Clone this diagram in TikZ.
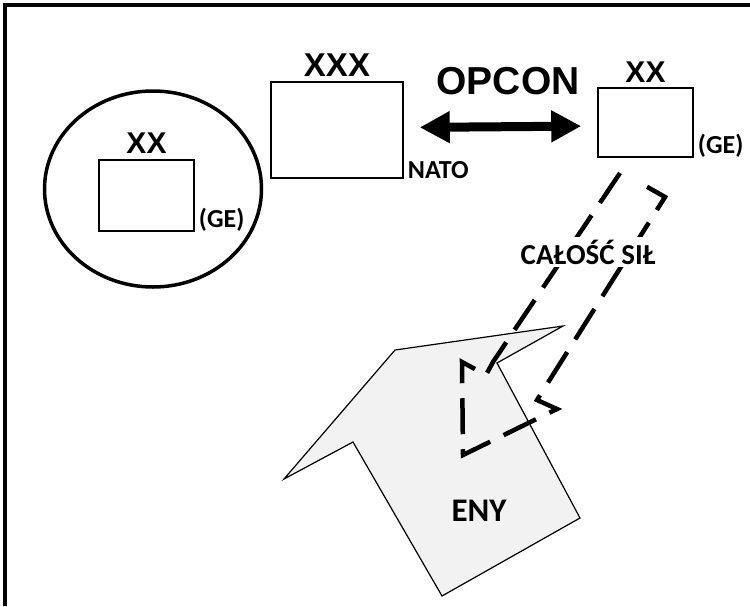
\documentclass[tikz,border=0pt]{standalone}
\usepackage{fontspec}
\setmainfont{Carlito}
\newfontfamily\arialfont{Liberation Sans}
\usetikzlibrary{arrows.meta, positioning, shapes.geometric}

\begin{document}
\begin{tikzpicture}[
    x=1pt, y=-1pt,
    unitbox/.style={draw, line width=1.5pt, inner sep=0pt},
    echelon/.style={font=\arialfont\bfseries\fontsize{30}{30}\selectfont,
                    inner sep=0pt},
    sidetag/.style={font=\bfseries\fontsize{26}{26}\selectfont,
                    inner sep=0pt, anchor=south west, xshift=4pt},
    opcon/.style={{Triangle[length=30pt, width=30pt]}-{Triangle[length=30pt, width=30pt]},
                  line width=9pt, shorten <=16pt, shorten >=16pt},
    force/.style={line width=4.5pt, dash pattern=on 36pt off 15pt}
  ]
  \useasboundingbox (0,0) rectangle (750,606);

  % Frame
  \draw[line width=3.5pt] (5,606) -- (5,5) -- (750,5);

  % GE division inside the ring
  \node[ellipse, draw, line width=3.5pt, inner sep=0pt,
        minimum width=217pt, minimum height=196pt] (ring) at (153,189) {};
  \node[unitbox, minimum width=95pt, minimum height=71pt] (lxx) at (146.5,195.5) {};
  \node[echelon, above=6pt of lxx] (lxxlbl) {XX};
  \node[sidetag] (lge) at (lxx.south east) {(GE)};

  % NATO corps
  \node[unitbox, minimum width=132pt, minimum height=96pt] (xxx) at (337,130) {};
  \node[echelon, font=\arialfont\bfseries\fontsize{33}{33}\selectfont,
        above=5pt of xxx] (xxxlbl) {XXX};
  \node[sidetag] (nato) at (xxx.south east) {NATO};

  % GE division under OPCON
  \node[unitbox, minimum width=95pt, minimum height=69pt] (rxx) at (645.5,122.5) {};
  \node[echelon, above=5pt of rxx] (rxxlbl) {XX};
  \node[sidetag] (rge) at (rxx.south east) {(GE)};

  % OPCON link
  \draw[opcon] ([yshift=2.5pt]xxx.east) -- ([yshift=-3.5pt]rxx.west);
  \node[font=\arialfont\bfseries\fontsize{39}{39}\selectfont, inner sep=0pt]
    (opconlbl) at (508,81.5) {OPCON};

  % Enemy
  \draw[fill=gray!10, line width=1.2pt] (395,350) -- (563,326) -- (497,363)
    -- (580,518) -- (442,596) -- (353,442) -- (284,479) -- cycle;
  \node[font=\bfseries\fontsize{33}{33}\selectfont, inner sep=0pt] (eny) at (479,511) {ENY};

  % Whole force
  \draw[force] (620,173) -- (493,362) -- (486,375) -- (462,362) -- (463,455)
    -- (557,409) -- (537,400) -- (665,197) -- (635,180);
  \node[font=\bfseries\fontsize{29}{29}\selectfont, fill=white, inner sep=3pt]
    (forcelbl) at (588,252) {CAŁOŚĆ SIŁ};
\end{tikzpicture}
\end{document}
